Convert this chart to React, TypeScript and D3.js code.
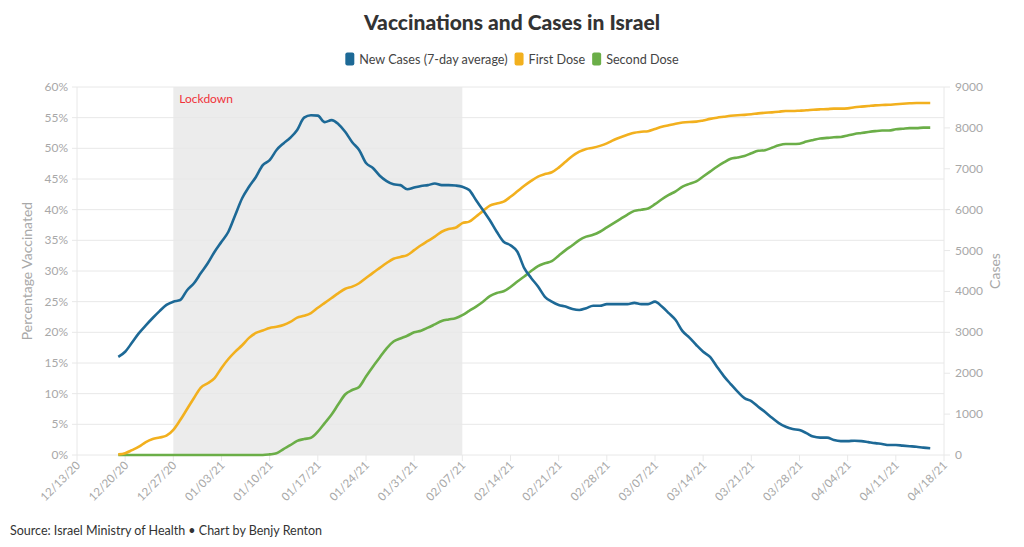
import React, { useLayoutEffect, useRef, useState } from 'react';
import * as d3 from 'd3';

// daily series, starting 12/19/20
const startDate = new Date(2020, 11, 19);

const newCases = [
  2400, 2525, 2750, 2980, 3170, 3350, 3520, 3670, 3750, 3790, 4030, 4200, 4450, 4690, 4970,
  5215, 5460, 5870, 6280, 6560, 6800, 7090, 7210, 7460, 7620, 7760, 7950, 8250, 8310, 8300,
  8140, 8190, 8090, 7900, 7650, 7460, 7140, 7020, 6830, 6700, 6620, 6600, 6500, 6540, 6580,
  6600, 6640, 6600, 6600, 6590, 6560, 6480, 6230, 5990, 5740, 5460, 5215, 5130, 4970, 4570,
  4330, 4120, 3870, 3750, 3670, 3630, 3570, 3545, 3590, 3650, 3650, 3690, 3690, 3690, 3690,
  3720, 3690, 3690, 3750, 3630, 3470, 3300, 3030, 2870, 2690, 2525, 2400, 2160, 1930, 1735,
  1550, 1390, 1320, 1180, 1050, 910, 780, 690, 635, 610, 535, 450, 425, 425, 365,
  340, 340, 350, 340, 315, 290, 270, 245, 245, 230, 215, 200, 180, 165,
];

const firstDose = [
  0.1, 0.3, 0.8, 1.35, 2.1, 2.6, 2.85, 3.15, 4.1, 5.7, 7.5, 9.3, 11.0, 11.7, 12.55,
  14.2, 15.65, 16.85, 17.9, 19.1, 19.9, 20.3, 20.7, 20.9, 21.2, 21.7, 22.4, 22.7, 23.15, 24.0,
  24.8, 25.6, 26.4, 27.1, 27.45, 28.0, 28.85, 29.7, 30.5, 31.3, 32.0, 32.3, 32.6, 33.4, 34.2,
  34.9, 35.6, 36.4, 36.85, 37.05, 37.8, 38.05, 38.9, 39.8, 40.65, 41.0, 41.3, 42.1, 43.0, 43.9,
  44.7, 45.4, 45.8, 46.1, 46.85, 47.8, 48.75, 49.45, 49.9, 50.1, 50.4, 50.8, 51.35, 51.8, 52.2,
  52.55, 52.7, 52.8, 53.15, 53.5, 53.75, 54.0, 54.2, 54.3, 54.35, 54.55, 54.8, 55.0, 55.15, 55.3,
  55.4, 55.45, 55.55, 55.7, 55.8, 55.87, 55.97, 56.09, 56.09, 56.14, 56.2, 56.3, 56.36, 56.4, 56.47,
  56.47, 56.52, 56.69, 56.8, 56.9, 57.0, 57.07, 57.1, 57.2, 57.28, 57.34, 57.39, 57.39, 57.39,
];

const secondDose = [
  0, 0, 0, 0, 0, 0, 0, 0, 0, 0, 0, 0, 0, 0, 0,
  0, 0, 0, 0, 0, 0, 0, 0.1, 0.27, 0.97, 1.6, 2.3, 2.6, 2.8, 3.8,
  5.2, 6.6, 8.3, 9.9, 10.6, 11.1, 12.8, 14.4, 15.9, 17.4, 18.5, 19.0, 19.45, 20.0, 20.27,
  20.76, 21.3, 21.85, 22.1, 22.3, 22.8, 23.5, 24.2, 25.0, 25.9, 26.4, 26.7, 27.4, 28.3, 29.1,
  30.0, 30.8, 31.25, 31.6, 32.5, 33.4, 34.2, 35.05, 35.6, 35.9, 36.4, 37.1, 37.8, 38.5, 39.2,
  39.8, 40.0, 40.2, 40.9, 41.7, 42.4, 43.0, 43.75, 44.2, 44.6, 45.4, 46.2, 47.0, 47.7, 48.3,
  48.5, 48.75, 49.2, 49.6, 49.7, 50.1, 50.5, 50.7, 50.7, 50.76, 51.1, 51.36, 51.6, 51.7, 51.8,
  51.85, 52.1, 52.34, 52.5, 52.66, 52.8, 52.9, 52.9, 53.1, 53.2, 53.3, 53.3, 53.37, 53.37,
];

const xTickLabels = [
  '12/13/20', '12/20/20', '12/27/20', '01/03/21', '01/10/21', '01/17/21', '01/24/21',
  '01/31/21', '02/07/21', '02/14/21', '02/21/21', '02/28/21', '03/07/21', '03/14/21',
  '03/21/21', '03/28/21', '04/04/21', '04/11/21', '04/18/21',
];
const pctTicks = [0, 5, 10, 15, 20, 25, 30, 35, 40, 45, 50, 55, 60];
const caseTicks = [0, 1000, 2000, 3000, 4000, 5000, 6000, 7000, 8000, 9000];
const lockdown = ['12/27/20', '02/07/21'];

const legendItems = [
  { label: 'New Cases (7-day average)', color: '#1d6996' },
  { label: 'First Dose', color: '#f2b01e' },
  { label: 'Second Dose', color: '#6bae48' },
];

const parseDate = d3.timeParse('%m/%d/%y');

export default function App() {
  const width = 1024;
  const height = 547;
  const margin = { top: 87, right: 80, bottom: 92, left: 77 };
  const innerRight = width - margin.right;
  const innerBottom = height - margin.bottom;

  const legendRefs = useRef<(SVGTextElement | null)[]>([]);
  const [textWidths, setTextWidths] = useState<number[]>(legendItems.map(d => d.label.length * 6));

  useLayoutEffect(() => {
    const w = legendRefs.current.map(el => (el ? el.getComputedTextLength() : 0));
    setTextWidths(w);
  }, []);

  const tickDates = xTickLabels.map(s => parseDate(s) as Date);

  const x = d3.scaleTime()
    .domain([tickDates[0], tickDates[tickDates.length - 1]])
    .range([margin.left, innerRight]);
  const yPct = d3.scaleLinear().domain([0, 60]).range([innerBottom, margin.top]);
  const yCases = d3.scaleLinear().domain([0, 9000]).range([innerBottom, margin.top]);

  const dates = newCases.map((_, i) => d3.timeDay.offset(startDate, i));

  const pctLine = d3.line<number>()
    .x((_, i) => x(dates[i]))
    .y(d => yPct(d))
    .curve(d3.curveMonotoneX);
  const casesLine = d3.line<number>()
    .x((_, i) => x(dates[i]))
    .y(d => yCases(d))
    .curve(d3.curveMonotoneX);

  const lockX0 = x(parseDate(lockdown[0]) as Date);
  const lockX1 = x(parseDate(lockdown[1]) as Date);

  const font = 'Lato, "Open Sans", sans-serif';
  const axisColor = '#a8a8a8';
  const gridColor = '#e8e8e8';

  // legend layout: swatch 9px, 5px to text, 7px between items
  const itemWidths = textWidths.map(w => 14 + w + 7);
  const legendTotal = d3.sum(itemWidths) - 7;
  let lx = width / 2 - legendTotal / 2;
  const legendPos = itemWidths.map(w => { const p = lx; lx += w; return p; });

  return (
    <svg width={width} height={height} style={{ position: 'absolute', left: 0, top: 0, background: '#fff' }} fontFamily={font}>
      <text x={width / 2} y={30} textAnchor="middle" fontSize={21} fontWeight={900} fill="#333">
        Vaccinations and Cases in Israel
      </text>

      {legendItems.map((d, i) => (
        <g key={d.label} transform={`translate(${legendPos[i]},59)`}>
          <rect x={0} y={-6.5} width={9} height={13} rx={2} fill={d.color} />
          <text ref={el => { legendRefs.current[i] = el; }} x={14} y={4.5} fontSize={12.6} fill="#444">{d.label}</text>
        </g>
      ))}

      {/* lockdown band */}
      <rect x={lockX0} y={margin.top} width={lockX1 - lockX0} height={innerBottom - margin.top} fill="#ececec" />
      <text x={lockX0 + 6} y={margin.top + 16} fontSize={12} fill="#f0323a">Lockdown</text>

      {/* grid */}
      {pctTicks.map(t => (
        <line key={t} x1={margin.left - 5} x2={innerRight} y1={yPct(t)} y2={yPct(t)} stroke={gridColor} strokeWidth={1} />
      ))}
      <line x1={margin.left} x2={margin.left} y1={margin.top} y2={innerBottom} stroke={gridColor} />
      <line x1={innerRight} x2={innerRight} y1={margin.top} y2={innerBottom} stroke={gridColor} />

      {/* left axis */}
      {pctTicks.map(t => (
        <text key={t} x={margin.left - 9} y={yPct(t) + 4} textAnchor="end" fontSize={12} fill={axisColor}>{t}%</text>
      ))}
      <text transform={`translate(32,${(margin.top + innerBottom) / 2}) rotate(-90)`} textAnchor="middle" fontSize={14} fill={axisColor}>
        Percentage Vaccinated
      </text>

      {/* right axis */}
      {caseTicks.map(t => (
        <g key={t}>
          <line x1={innerRight} x2={innerRight + 6} y1={yCases(t)} y2={yCases(t)} stroke={gridColor} />
          <text x={innerRight + 11} y={yCases(t) + 4} fontSize={12} fill={axisColor}>{t}</text>
        </g>
      ))}
      <text transform={`translate(1000,${(margin.top + innerBottom) / 2}) rotate(-90)`} textAnchor="middle" fontSize={14} fill={axisColor}>
        Cases
      </text>

      {/* x axis */}
      {tickDates.map((d, i) => (
        <g key={xTickLabels[i]} transform={`translate(${x(d)},${innerBottom})`}>
          <line y1={0} y2={6} stroke={gridColor} />
          <text transform="translate(4,11) rotate(-45)" textAnchor="end" fontSize={11.5} fill={axisColor}>{xTickLabels[i]}</text>
        </g>
      ))}

      {/* series */}
      <path d={pctLine(secondDose) ?? ''} fill="none" stroke={legendItems[2].color} strokeWidth={2.6} strokeLinejoin="round" />
      <path d={pctLine(firstDose) ?? ''} fill="none" stroke={legendItems[1].color} strokeWidth={2.6} strokeLinejoin="round" />
      <path d={casesLine(newCases) ?? ''} fill="none" stroke={legendItems[0].color} strokeWidth={2.6} strokeLinejoin="round" />

      <text x={10} y={535} fontSize={12.5} fill="#333">
        Source: Israel Ministry of Health • Chart by Benjy Renton
      </text>
    </svg>
  );
}
